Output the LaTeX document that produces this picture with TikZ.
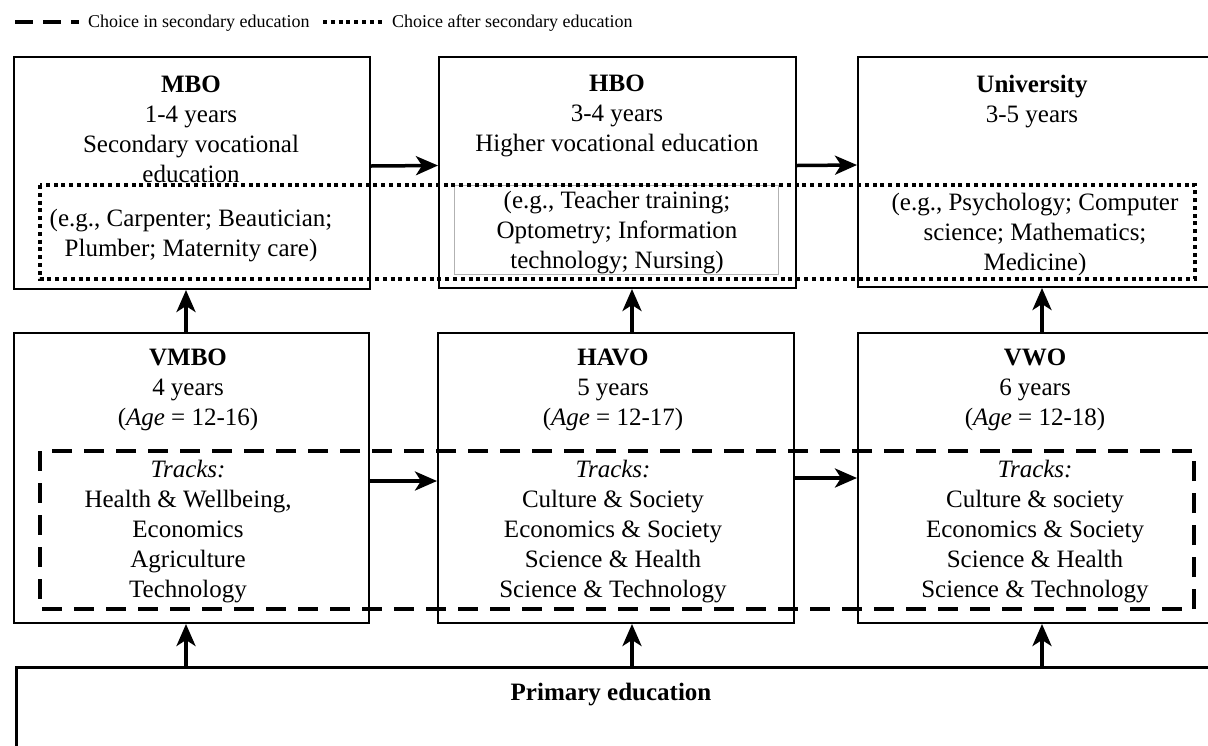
\documentclass[tikz,border=0pt]{standalone}
\usepackage{fontspec}
\setmainfont{Liberation Serif}
\usetikzlibrary{arrows.meta}
\begin{document}
\begin{tikzpicture}[x=1pt,y=-1pt,
  box/.style={draw, line width=2pt, inner sep=0pt, anchor=north west},
  txt/.style={font=\fontsize{25}{30}\selectfont, align=center, inner sep=0pt},
  legtxt/.style={font=\fontsize{18}{22}\selectfont, anchor=west, inner sep=0pt},
  arr/.style={line width=3.5pt, -{Stealth[length=22pt,width=19pt,inset=6pt]}},
  dotbox/.style={line width=4pt, dash pattern=on 4pt off 3.8pt},
  dashbox/.style={line width=4pt, dash pattern=on 20pt off 12pt},
  legdash/.style={line width=4pt, dash pattern=on 18pt off 10pt},
  innerbox/.style={draw=black!30, line width=0.8pt}]
\useasboundingbox (0,0) rectangle (1208,745);
\clip (0,0) rectangle (1208,745);
\fill[white] (0,0) rectangle (1208,745);

% legend
\coordinate (l1a) at (15,22); \coordinate (l1b) at (79,22);
\coordinate (l2a) at (323,22); \coordinate (l2b) at (382,22);
\draw[legdash] (l1a) -- (l1b);
\node[legtxt] (leg1) at (88,23) {Choice in secondary education};
\draw[dotbox] (l2a) -- (l2b);
\node[legtxt] (leg2) at (392,23) {Choice after secondary education};

% top row
\node[box, minimum width=356pt, minimum height=232pt] (mbo) at (13,56) {};
\node[box, minimum width=357pt, minimum height=231pt] (hbo) at (438,56) {};
\node[box, minimum width=370pt, minimum height=230pt] (uni) at (857,56) {};
% middle row
\node[box, minimum width=355pt, minimum height=290pt] (vmbo) at (13,332) {};
\node[box, minimum width=356pt, minimum height=290pt] (havo) at (437,332) {};
\node[box, minimum width=370pt, minimum height=290pt] (vwo) at (857,332) {};
% primary
\node[box, line width=2.5pt, minimum width=1215pt, minimum height=120pt] (prim) at (15,666) {};

% inner gray box in HBO
\draw[innerbox] (454,185) rectangle (778,274);

% texts top row
\node[txt] (mbot) at (191,129) {\textbf{MBO}\\1-4 years\\Secondary vocational\\education};
\node[txt] (mboe) at (191,236) {(e.g., Carpenter; Beautician;\\Plumber; Maternity care)};
\node[txt] (hbot) at (617,116) {\textbf{HBO}\\3-4 years\\Higher vocational education};
\node[txt] (hboe) at (617,233) {(e.g., Teacher training;\\Optometry; Information\\technology; Nursing)};
\node[txt] (unit) at (1032,102) {\textbf{University}\\3-5 years};
\node[txt] (unie) at (1035,234) {(e.g., Psychology; Computer\\science; Mathematics;\\Medicine)};

% texts middle row
\node[txt] (vmbot) at (188,390) {\textbf{VMBO}\\4 years\\(\textit{Age} = 12-16)};
\node[txt] (vmboe) at (188,532) {\textit{Tracks:}\\Health \& Wellbeing,\\Economics\\Agriculture\\Technology};
\node[txt] (havot) at (613,390) {\textbf{HAVO}\\5 years\\(\textit{Age} = 12-17)};
\node[txt] (havoe) at (613,532) {\textit{Tracks:}\\Culture \& Society\\Economics \& Society\\Science \& Health\\Science \& Technology};
\node[txt] (vwot) at (1035,390) {\textbf{VWO}\\6 years\\(\textit{Age} = 12-18)};
\node[txt] (vwoe) at (1035,532) {\textit{Tracks:}\\Culture \& society\\Economics \& Society\\Science \& Health\\Science \& Technology};

\node[txt] (primt) at (611,695) {\textbf{Primary education}};

% choice boxes
\draw[dotbox] (40,185) rectangle (1195,279);
\draw[dashbox] (40,451) rectangle (1194,609);

% horizontal arrows
\draw[arr] ([yshift=7pt]mbo.east) -- ([yshift=7pt]hbo.west);
\draw[arr] ([yshift=7pt]hbo.east) -- ([yshift=7pt]uni.west);
\draw[arr] ([yshift=-3pt]vmbo.east) -- ([yshift=-3pt]havo.west);
\draw[arr] (havo.east) -- (vwo.west);

% vertical arrows
\coordinate (x1) at (186,0);
\coordinate (x2) at (632,0);
\coordinate (x3) at (1042,0);
\draw[arr] (vmbo.north -| x1) -- (mbo.south -| x1);
\draw[arr] (havo.north -| x2) -- (hbo.south -| x2);
\draw[arr] (vwo.north -| x3) -- (uni.south -| x3);
\draw[arr] (prim.north -| x1) -- (vmbo.south -| x1);
\draw[arr] (prim.north -| x2) -- (havo.south -| x2);
\draw[arr] (prim.north -| x3) -- (vwo.south -| x3);
\end{tikzpicture}
\end{document}
